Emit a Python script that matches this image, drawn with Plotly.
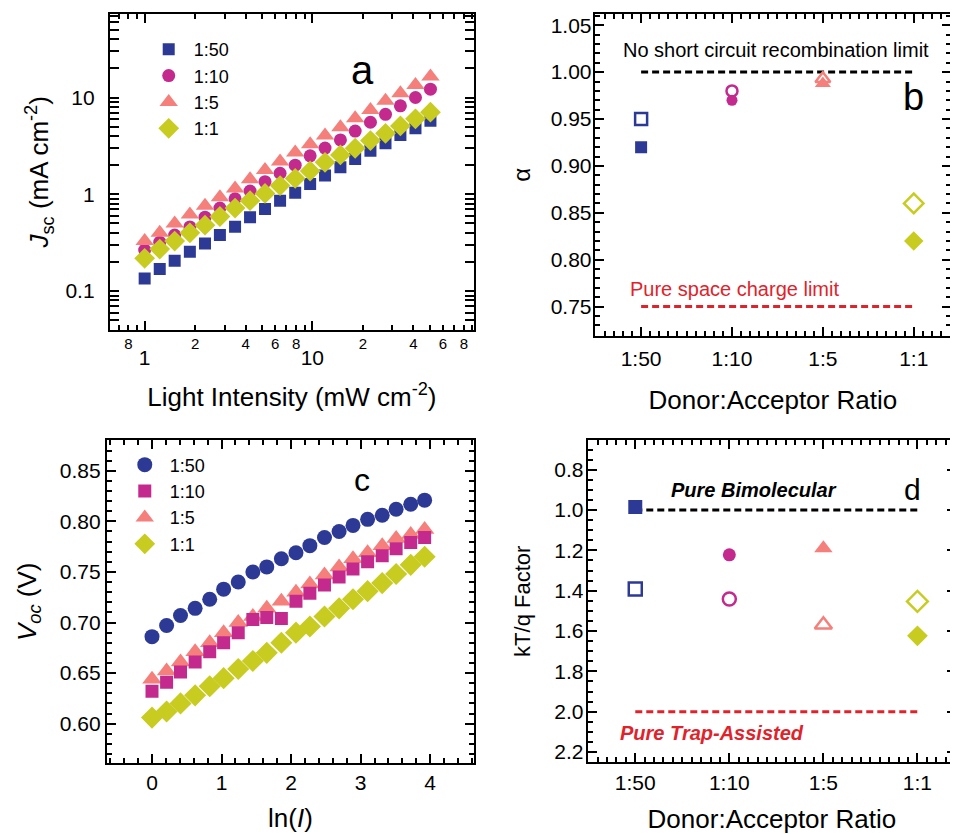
import plotly.graph_objects as go

# page body has an 8px default margin: figure is placed at (8, 8) in the window
OFF = 8
W, H = 958 - OFF, 834 - OFF

# ---------------- data ----------------
ratios = ["1:50", "1:10", "1:5", "1:1"]

# panel a: light intensity (mW cm^-2) and Jsc (mA cm^-2)
intensity = [1.0, 1.23, 1.51, 1.86, 2.29, 2.81, 3.46, 4.25, 5.22, 6.42,
             7.9, 9.7, 11.9, 14.7, 18.0, 22.2, 27.3, 33.5, 41.2, 50.6]
jsc_1_50 = [0.135, 0.169, 0.206, 0.255, 0.311, 0.380, 0.463, 0.578, 0.705, 0.86,
            1.04, 1.28, 1.56, 1.90, 2.32, 2.81, 3.37, 4.11, 4.82, 5.74]
jsc_1_10 = [0.265, 0.32, 0.38, 0.46, 0.58, 0.72, 0.90, 1.08, 1.35, 1.65,
            2.0, 2.5, 3.0, 3.65, 4.5, 5.55, 6.7, 8.2, 10.0, 12.2]
jsc_1_5 = [0.33, 0.40, 0.50, 0.62, 0.76, 0.93, 1.15, 1.43, 1.78, 2.18,
           2.70, 3.29, 4.04, 4.93, 6.11, 7.45, 9.24, 11.1, 13.5, 16.5]
jsc_1_1 = [0.218, 0.272, 0.329, 0.40, 0.48, 0.59, 0.72, 0.86, 1.02, 1.23,
           1.46, 1.74, 2.14, 2.55, 2.99, 3.59, 4.27, 5.09, 6.02, 7.05]

# panel b: alpha
alpha_filled = [0.92, 0.97, 0.988, 0.82]
alpha_open = [0.95, 0.98, 0.993, 0.86]
alpha_nsc_limit = [1.00, 1.00]
alpha_sc_limit = [0.75, 0.75]
limit_x = [0, 3]

# panel c: ln(I) and Voc (V)
ln_i = [0.0, 0.21, 0.41, 0.62, 0.83, 1.03, 1.24, 1.45, 1.65, 1.86,
        2.07, 2.27, 2.48, 2.69, 2.89, 3.10, 3.31, 3.51, 3.72, 3.92]
voc_1_50 = [0.686, 0.697, 0.707, 0.714, 0.723, 0.733, 0.740, 0.750, 0.755, 0.763,
            0.769, 0.776, 0.784, 0.790, 0.796, 0.802, 0.806, 0.812, 0.817, 0.821]
voc_1_10 = [0.632, 0.641, 0.651, 0.661, 0.671, 0.680, 0.690, 0.703, 0.705, 0.704,
            0.721, 0.729, 0.737, 0.745, 0.753, 0.760, 0.766, 0.773, 0.779, 0.784]
voc_1_5 = [0.644, 0.652, 0.661, 0.671, 0.680, 0.690, 0.700, 0.706, 0.714, 0.721,
           0.730, 0.738, 0.747, 0.755, 0.763, 0.769, 0.776, 0.783, 0.787, 0.792]
voc_1_1 = [0.606, 0.612, 0.620, 0.628, 0.637, 0.645, 0.654, 0.662, 0.670, 0.680,
           0.690, 0.696, 0.706, 0.714, 0.723, 0.731, 0.739, 0.748, 0.757, 0.765]

# panel d: kT/q factor
ktq_filled = [0.985, 1.222, 1.19, 1.624]
ktq_open = [1.392, 1.441, 1.569, 1.453]
ktq_bimolecular = [1.0, 1.0]
ktq_trap = [2.0, 2.0]

# ---------------- style ----------------
BLUE = "#2C3A96"
MAGENTA = "#C42A8E"
SALMON = "#F47F7B"
YELLOW = "#C9CC20"
RED = "#E0232B"
FONT = "Liberation Sans, Arial, sans-serif"

colors = [BLUE, MAGENTA, SALMON, YELLOW]


def px(x):
    return (x - OFF) / W


def py(y):
    return 1 - (y - OFF) / H


fig = go.Figure()

# ---- panel a ----
a_series = [
    ("1:50", jsc_1_50, "square", BLUE, 12),
    ("1:10", jsc_1_10, "circle", MAGENTA, 13),
    ("1:5", jsc_1_5, "triangle-up", SALMON, 16),
    ("1:1", jsc_1_1, "diamond", YELLOW, 16),
]
for i, (name, ys, sym, col, sz) in enumerate(a_series):
    fig.add_trace(go.Scatter(
        x=intensity, y=ys, mode="markers", name=name,
        marker=dict(symbol=sym, color=col, size=sz, opacity=1, line=dict(width=0)),
        xaxis="x5" if name == "1:1" else "x", yaxis="y",
        legend="legend", legendrank=i + 1))

# ---- panel b ----
fig.add_trace(go.Scatter(x=limit_x, y=alpha_nsc_limit, mode="lines",
                         line=dict(color="black", width=3, dash="7px,4px"),
                         xaxis="x2", yaxis="y2", showlegend=False))
fig.add_trace(go.Scatter(x=limit_x, y=alpha_sc_limit, mode="lines",
                         line=dict(color=RED, width=3, dash="7px,4px"),
                         xaxis="x2", yaxis="y2", showlegend=False))
fig.add_trace(go.Scatter(
    x=list(range(len(ratios))), y=alpha_open, mode="markers",
    marker=dict(symbol=["square-open", "circle-open", "triangle-up-open", "diamond-open"],
                color=colors, size=[12, 11, 13, 15], opacity=1,
                line=dict(width=2.5, color=colors)),
    xaxis="x2", yaxis="y2", showlegend=False))
fig.add_trace(go.Scatter(
    x=list(range(len(ratios))), y=alpha_filled, mode="markers",
    marker=dict(symbol=["square", "circle", "triangle-up", "diamond"],
                color=colors, size=[12, 11, 14, 15], opacity=1, line=dict(width=0)),
    xaxis="x2", yaxis="y2", showlegend=False))

# ---- panel c ----
c_series = [
    ("1:50", voc_1_50, "circle", BLUE, 15, 1),
    ("1:5", voc_1_5, "triangle-up", SALMON, 17, 3),
    ("1:10", voc_1_10, "square", MAGENTA, 13, 2),
    ("1:1", voc_1_1, "diamond", YELLOW, 17, 4),
]
for name, ys, sym, col, sz, rank in c_series:
    fig.add_trace(go.Scatter(
        x=ln_i, y=ys, mode="markers", name=name,
        marker=dict(symbol=sym, color=col, size=sz, opacity=1, line=dict(width=0)),
        xaxis="x3", yaxis="y3", legend="legend2", legendrank=rank))

# ---- panel d ----
fig.add_trace(go.Scatter(x=limit_x, y=ktq_bimolecular, mode="lines",
                         line=dict(color="black", width=3, dash="7px,4px"),
                         xaxis="x4", yaxis="y4", showlegend=False))
fig.add_trace(go.Scatter(x=limit_x, y=ktq_trap, mode="lines",
                         line=dict(color=RED, width=3, dash="7px,4px"),
                         xaxis="x4", yaxis="y4", showlegend=False))
fig.add_trace(go.Scatter(
    x=list(range(len(ratios))), y=ktq_open, mode="markers",
    marker=dict(symbol=["square-open", "circle-open", "triangle-up-open", "diamond-open"],
                color=colors, size=[13, 13, 15, 16], opacity=1,
                line=dict(width=2.5, color=colors)),
    xaxis="x4", yaxis="y4", showlegend=False))
fig.add_trace(go.Scatter(
    x=list(range(len(ratios))), y=ktq_filled, mode="markers",
    marker=dict(symbol=["square", "circle", "triangle-up", "diamond"],
                color=colors, size=[14, 13, 16, 16], opacity=1, line=dict(width=0)),
    xaxis="x4", yaxis="y4", showlegend=False))

# ---------------- axes ----------------
common = dict(showline=True, linecolor="black", linewidth=2, mirror="allticks",
              ticks="inside", tickcolor="black", tickwidth=1.5, showgrid=False,
              zeroline=False, tickfont=dict(size=21, color="black", family=FONT))


def minor(**kw):
    return dict(dict(ticklen=5, tickcolor="black", tickwidth=1.5, ticks="inside",
                     showgrid=False), **kw)


a_minor_x = [0.7, 0.9, 3, 5, 7, 9, 30, 50, 70, 90]
a_minor_y = [0.05, 0.06, 0.07, 0.08, 0.09, 0.2, 0.3, 0.4, 0.5, 0.6, 0.7, 0.8, 0.9,
             2, 3, 4, 5, 6, 7, 8, 9, 20, 30, 40, 50, 60, 70]

a_xrange = [-0.208, 1.964]
a_xdomain = [px(110), px(475)]
title_font = dict(size=26, color="black", family=FONT)

layout_axes = dict(
    xaxis=dict(common, type="log", range=a_xrange, domain=a_xdomain, anchor="y",
               tickvals=[0.8, 2, 4, 6, 8, 20, 40, 60, 80],
               ticktext=["8", "2", "4", "6", "8", "2", "4", "6", "8"],
               tickfont=dict(size=15, color="black", family=FONT),
               ticklen=5, ticklabelstandoff=-1,
               minor=minor(tickvals=a_minor_x)),
    xaxis5=dict(type="log", range=a_xrange, overlaying="x", anchor="y", side="bottom",
                showline=False, mirror="allticks", ticks="inside", ticklen=9,
                tickcolor="black", tickwidth=1.5, showgrid=False, zeroline=False,
                tickvals=[1, 10], ticktext=["1", "10"],
                tickfont=dict(size=21, color="black", family=FONT),
                ticklabelstandoff=13,
                title=dict(text="Light Intensity (mW cm<sup>-2</sup>)",
                           font=title_font, standoff=20)),
    yaxis=dict(common, type="log", range=[-1.398, 1.863], domain=[py(330), py(14)],
               anchor="x", tickvals=[0.1, 1, 10], ticktext=["0.1", "1", "10"],
               ticklen=9, ticklabelstandoff=9,
               minor=minor(tickvals=a_minor_y),
               title=dict(text="<i>J</i><sub>sc</sub> (mA cm<sup>-2</sup>)",
                          font=title_font, standoff=9)),
    xaxis2=dict(common, range=[-0.51, 3.41], domain=[px(596), px(953)], anchor="y2",
                tickvals=list(range(len(ratios))), ticktext=ratios, ticklen=9,
                ticklabelstandoff=3,
                minor=minor(dtick=0.1, tick0=0),
                title=dict(text="Donor:Acceptor Ratio", font=title_font, standoff=22)),
    yaxis2=dict(common, range=[0.719, 1.062], domain=[py(336), py(14)], anchor="x2",
                dtick=0.05, tick0=0, tickformat=".2f", ticklen=9, ticklabelstandoff=-3,
                minor=minor(dtick=0.01, tick0=0),
                title=dict(text="α", font=dict(size=24, color="black", family=FONT),
                           standoff=13)),
    xaxis3=dict(common, range=[-0.65, 4.63], domain=[px(107), px(475)], anchor="y3",
                dtick=1, tick0=0, ticklen=9, ticklabelstandoff=0,
                minor=minor(dtick=0.2, tick0=0),
                title=dict(text="ln(<i>I</i>)", font=title_font, standoff=16)),
    yaxis3=dict(common, range=[0.561, 0.880], domain=[py(764), py(441)], anchor="x3",
                dtick=0.05, tick0=0, tickformat=".2f", ticklen=9, ticklabelstandoff=0,
                minor=minor(dtick=0.01, tick0=0),
                title=dict(text="<i>V</i><sub><i>oc</i></sub> (V)",
                           font=title_font, standoff=16)),
    xaxis4=dict(common, range=[-0.505, 3.41], domain=[px(589), 1.0], anchor="y4",
                tickvals=list(range(len(ratios))), ticktext=ratios, ticklen=9,
                ticklabelstandoff=1,
                minor=minor(dtick=0.1, tick0=0),
                title=dict(text="Donor:Acceptor Ratio", font=title_font, standoff=18)),
    yaxis4=dict(common, range=[2.25, 0.655], domain=[py(763), py(441)], anchor="x4",
                dtick=0.2, tick0=0, tickformat=".1f", ticklen=9, ticklabelstandoff=-2,
                minor=minor(dtick=0.05, tick0=0),
                title=dict(text="kT/q Factor", font=dict(size=22, color="black", family=FONT),
                           standoff=18)),
)

annotations = [
    dict(text="a", x=px(363), y=py(70), font=dict(size=40)),
    dict(text="b", x=px(915), y=py(97), font=dict(size=38)),
    dict(text="c", x=px(363), y=py(481), font=dict(size=32)),
    dict(text="d", x=px(914), y=py(490), font=dict(size=30)),
    dict(text="No short circuit recombination limit", x=px(778), y=py(50),
         font=dict(size=20)),
    dict(text="Pure space charge limit", x=px(736), y=py(289),
         font=dict(size=20, color=RED)),
    dict(text="<b><i>Pure Bimolecular</i></b>", x=px(756), y=py(491),
         font=dict(size=20)),
    dict(text="<b><i>Pure Trap-Assisted</i></b>", x=px(713), y=py(734),
         font=dict(size=20, color=RED)),
]
for an in annotations:
    an.update(xref="paper", yref="paper", showarrow=False, xanchor="center",
              yanchor="middle")
    an["font"] = dict(dict(color="black", family=FONT), **an["font"])

legend_common = dict(xanchor="left", yanchor="top", bgcolor="rgba(0,0,0,0)",
                     font=dict(size=18, color="black", family=FONT), itemwidth=40,
                     borderwidth=0, tracegroupgap=0)

fig.update_layout(
    width=W, height=H, margin=dict(l=0, r=0, t=0, b=0),
    paper_bgcolor="white", plot_bgcolor="white",
    font=dict(family=FONT, color="black"),
    legend=dict(legend_common, x=px(144), y=py(31)),
    legend2=dict(legend_common, x=px(120), y=py(447)),
    annotations=annotations,
    **layout_axes,
)

fig.write_html("out.html")
